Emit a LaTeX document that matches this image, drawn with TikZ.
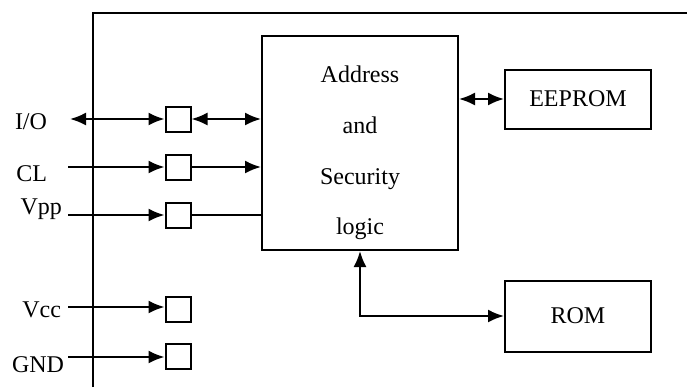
\documentclass[tikz,border=0pt]{standalone}
\usepackage{fontspec}
\setmainfont{Liberation Serif}
\usetikzlibrary{arrows.meta}

\begin{document}
\begin{tikzpicture}[x=0.5pt, y=-0.5pt, line width=1pt, font=\fontsize{12}{14}\selectfont,
    pinbox/.style={draw, minimum size=12.5pt, inner sep=0pt},
    blockbox/.style={draw, inner sep=0pt},
    pinlabel/.style={anchor=base east, inner sep=0pt},
    tip/.style={-{Latex[length=8pt,width=6.5pt]}},
    tips/.style={{Latex[length=8pt,width=6.5pt]}-{Latex[length=8pt,width=6.5pt]}}]
  \useasboundingbox (0,0) rectangle (687,387);

  % parameters
  \def\xin{68}    % start of the pin lines
  \def\xpad{178}  % column of the pads

  % outer frame
  \draw (93,387) -- (93,13) -- (687,13);

  % blocks
  \node[blockbox, minimum width=98pt, minimum height=107pt] (addr) at (360,143) {};
  \node[align=center, inner sep=0pt, font=\fontsize{12}{25.3}\selectfont] (addrtext) at (360,153)
    {Address\\and\\Security\\logic};
  \node[blockbox, minimum width=73pt, minimum height=29.5pt] (eeprom) at (578,99) {EEPROM};
  \node[blockbox, minimum width=73pt, minimum height=35.5pt] (rom) at (578,316) {ROM};

  % pads
  \foreach \name/\y in {io/119, cl/167, vpp/215, vcc/309, gnd/356}
    \node[pinbox] (\name) at (\xpad,\y) {};

  % pin names
  \node[pinlabel] (iolab) at (48,129) {I/O};
  \node[pinlabel] (cllab) at (48,181) {CL};
  \node[pinlabel] (vpplab) at (63,214) {Vpp};
  \node[pinlabel] (vcclab) at (62,317) {Vcc};
  \node[pinlabel] (gndlab) at (65,372) {GND};

  % pin lines
  \coordinate (inio) at (70,119);
  \draw[tips] (inio) -- (io.west);
  \foreach \name/\y in {cl/167, vpp/215, vcc/307, gnd/357} {
    \coordinate (in\name) at (\xin,\y);
    \draw[tip] (in\name) -- (in\name -| \name.west);
  }

  % into the logic
  \draw[tips] (io.east) -- (io.east -| addr.west);
  \draw[tip] (cl.east) -- (cl.east -| addr.west);
  \draw (vpp.east) -- (vpp.east -| addr.west);
  \draw[tips] (eeprom.west) -- (eeprom.west -| addr.east);
  \draw[tips] (addr.south) |- (rom.west);
\end{tikzpicture}
\end{document}
